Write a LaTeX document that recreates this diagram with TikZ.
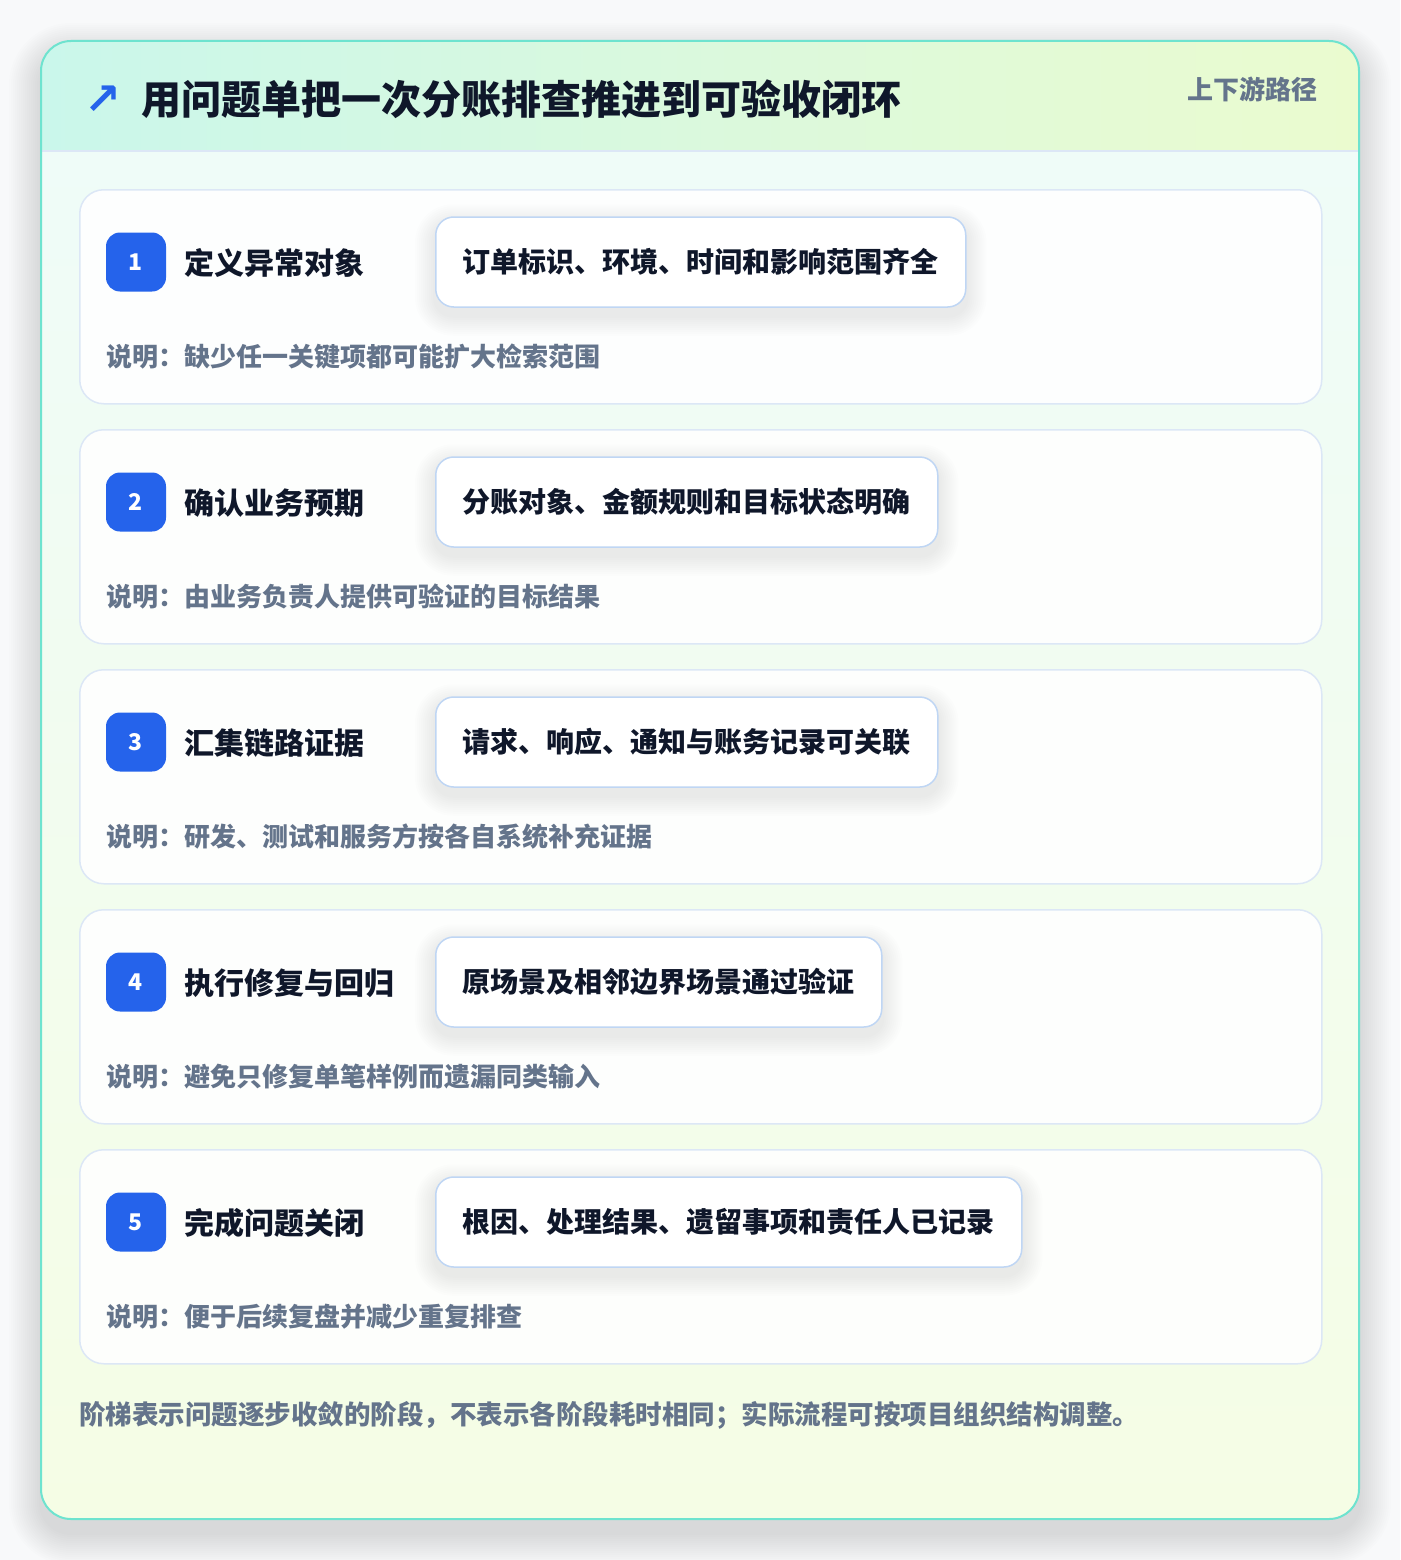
\documentclass[tikz,border=0pt]{standalone}
\usepackage{fontspec}
\setmainfont{Noto Sans CJK SC}
\newfontfamily\symfont{DejaVu Sans}
\usetikzlibrary{positioning}

\definecolor{pageBg}{HTML}{F8F9FA}
\definecolor{frameLine}{HTML}{6EE3CF}
\definecolor{headLeft}{HTML}{CAF7EB}
\definecolor{headRight}{HTML}{EBFBCF}
\definecolor{bodyTop}{HTML}{EFFCF8}
\definecolor{bodyBottom}{HTML}{F5FDE5}
\definecolor{cardLine}{HTML}{DCE7F6}
\definecolor{noteLine}{HTML}{BFD6F4}
\definecolor{badgeBlue}{HTML}{2563EB}
\definecolor{inkDark}{HTML}{0F172A}
\definecolor{inkGray}{HTML}{64748B}

\tikzset{
  softshade/.style={fill=black,fill opacity=0.008,draw=none},
  stepcard/.style={draw=cardLine,line width=1.5pt,fill=white,fill opacity=0.9,
    rounded corners=24pt,minimum width=1242pt,minimum height=214pt,
    anchor=north west,inner sep=0pt},
  badge/.style={fill=badgeBlue,rounded corners=14pt,minimum width=60pt,
    minimum height=59pt,inner sep=0pt,text=white,
    font=\fontsize{23}{23}\selectfont\bfseries},
  steptitle/.style={anchor=west,inner sep=0pt,text=inkDark,
    font=\fontsize{30}{30}\selectfont\bfseries},
  notebox/.style={draw=noteLine,line width=1.5pt,fill=white,rounded corners=18pt,
    minimum height=90pt,inner xsep=27pt,inner ysep=0pt,anchor=west,text=inkDark,
    font=\fontsize{28}{28}\selectfont\bfseries},
  desctext/.style={anchor=west,inner sep=0pt,text=inkGray,
    font=\fontsize{26}{26}\selectfont\bfseries},
}

\begin{document}
\begin{tikzpicture}[x=1pt,y=-1pt]
  \useasboundingbox (0,0) rectangle (1400,1560);
  \fill[pageBg] (0,0) rectangle (1400,1560);

  % outer frame with a soft shadow
  \foreach \k in {2,4,...,32}
    \fill[softshade,rounded corners=30+\k] (41-\k,41-\k+14) rectangle (1359+\k,1519+\k+14);
  \begin{scope}
    \clip[rounded corners=30pt] (41,41) rectangle (1359,1519);
    \shade[left color=headLeft,right color=headRight] (41,41) rectangle (1359,151);
    \shade[top color=bodyTop,bottom color=bodyBottom] (41,151) rectangle (1359,1519);
  \end{scope}
  \draw[cardLine,line width=1.5pt] (41,151) -- (1359,151);
  \draw[frameLine,line width=2pt,rounded corners=30pt] (41,41) rectangle (1359,1519);

  % header
  \node[anchor=west,inner sep=0pt,text=badgeBlue,font=\symfont\fontsize{44}{44}\selectfont\bfseries]
    (icon) at (84,100) {↗};
  \node[anchor=west,inner sep=0pt,text=inkDark,font=\fontsize{40}{40}\selectfont\bfseries]
    (title) at (141,99) {用问题单把一次分账排查推进到可验收闭环};
  \node[anchor=east,inner sep=0pt,text=inkGray,font=\fontsize{26}{26}\selectfont\bfseries]
    (route) at (1318,89) {上下游路径};

  % steps
  \foreach \i/\stepname/\stepnote/\stepdesc in {
    1/定义异常对象/订单标识、环境、时间和影响范围齐全/说明：缺少任一关键项都可能扩大检索范围,
    2/确认业务预期/分账对象、金额规则和目标状态明确/说明：由业务负责人提供可验证的目标结果,
    3/汇集链路证据/请求、响应、通知与账务记录可关联/说明：研发、测试和服务方按各自系统补充证据,
    4/执行修复与回归/原场景及相邻边界场景通过验证/说明：避免只修复单笔样例而遗漏同类输入,
    5/完成问题关闭/根因、处理结果、遗留事项和责任人已记录/说明：便于后续复盘并减少重复排查}{
    \pgfmathsetmacro\cardtop{189+240*(\i-1)}
    \node[stepcard] (card\i) at (79,\cardtop) {};
    \node[badge] (badge\i) at (136,\cardtop+73) {\i};
    \node[steptitle] (name\i) at (184,\cardtop+74) {\stepname};
    \node[notebox,opacity=0] (ghost\i) at (435,\cardtop+73) {\stepnote};
    \foreach \k in {2,4,...,20}
      \fill[softshade,fill opacity=0.006,rounded corners=18+\k]
        ([xshift=-\k pt,yshift=-\k pt-8pt]ghost\i.south west) rectangle ([xshift=\k pt,yshift=\k pt-8pt]ghost\i.north east);
    \node[notebox] (note\i) at (435,\cardtop+73) {\stepnote};
    \node[desctext] (desc\i) at (106,\cardtop+168) {\stepdesc};
  }

  % footnote
  \node[desctext,font=\fontsize{26.5}{26.5}\selectfont\bfseries] (footnote) at (79,1415)
    {阶梯表示问题逐步收敛的阶段，不表示各阶段耗时相同；实际流程可按项目组织结构调整。};
\end{tikzpicture}
\end{document}
